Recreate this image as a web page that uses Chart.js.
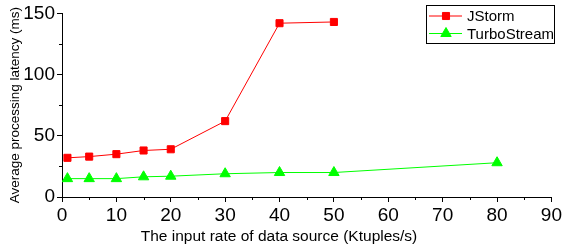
<!DOCTYPE html>
<html>
<head>
<meta charset="utf-8">
<script src="https://cdn.jsdelivr.net/npm/chart.js@4.4.0/dist/chart.umd.min.js"></script>
<style>
  html, body { margin: 0; padding: 0; background: #fff; }
  #wrap { width: 564px; height: 248px; }
</style>
</head>
<body>
<div id="wrap"><canvas id="chart"></canvas></div>
<script>
// data
var jstormRates = [1, 5, 10, 15, 20, 30, 40, 50];
var jstormLatency = [32, 33, 35, 38, 39, 62, 142, 143];
var turboRates = [1, 5, 10, 15, 20, 30, 40, 50, 80];
var turboLatency = [15, 15, 15, 16.5, 17, 19, 20, 20, 28];
var xTicks = [0, 10, 20, 30, 40, 50, 60, 70, 80, 90];
var yTicks = [0, 50, 100, 150];
var xTitle = 'The input rate of data source (Ktuples/s)';

var FONT = '"Liberation Sans", Arial, sans-serif';

function toPoints(xs, ys) {
    return xs.map(function (x, i) { return { x: x, y: ys[i] }; });
}

// minor ticks half way between the major ones
var minorTicks = {
    id: 'minorTicks',
    afterDraw: function (chart) {
        var ctx = chart.ctx, xs = chart.scales.x, ys = chart.scales.y;
        ctx.save();
        ctx.strokeStyle = '#000';
        ctx.lineWidth = 1;
        ctx.beginPath();
        for (var i = 0; i < xTicks.length - 1; i++) {
            var px = Math.round(xs.getPixelForValue((xTicks[i] + xTicks[i + 1]) / 2)) + 0.5;
            ctx.moveTo(px, ys.bottom);
            ctx.lineTo(px, ys.bottom + 3);
        }
        for (var j = 0; j < yTicks.length - 1; j++) {
            var py = Math.round(ys.getPixelForValue((yTicks[j] + yTicks[j + 1]) / 2)) + 0.5;
            ctx.moveTo(xs.left, py);
            ctx.lineTo(xs.left - 3, py);
        }
        ctx.stroke();
        // x axis title sits a bit left of the axis centre in the original
        ctx.fillStyle = '#000';
        ctx.font = '15.5px ' + FONT;
        ctx.textAlign = 'center';
        ctx.textBaseline = 'middle';
        ctx.fillText(xTitle, 279, 237);
        ctx.restore();
    }
};

// boxed legend in the top right corner, like the original plot
var boxLegend = {
    id: 'boxLegend',
    afterDraw: function (chart) {
        var ctx = chart.ctx;
        var left = 426, top = 5, w = 128, h = 38;
        ctx.save();
        ctx.fillStyle = '#fff';
        ctx.fillRect(left, top, w, h);
        ctx.strokeStyle = '#000';
        ctx.lineWidth = 1;
        ctx.strokeRect(left + 0.5, top + 0.5, w, h);
        ctx.font = '15px ' + FONT;
        ctx.textBaseline = 'middle';
        chart.data.datasets.forEach(function (ds, i) {
            var y = 16 + i * 17.5;
            ctx.strokeStyle = ds.borderColor;
            ctx.beginPath();
            ctx.moveTo(429, y);
            ctx.lineTo(462, y);
            ctx.stroke();
            ctx.fillStyle = ds.pointBackgroundColor;
            ctx.strokeStyle = ds.pointBackgroundColor;
            Chart.helpers.drawPoint(ctx, {
                pointStyle: ds.pointStyle, radius: ds.pointRadius, borderWidth: 1, rotation: 0
            }, 446, y);
            ctx.fillStyle = '#000';
            ctx.fillText(ds.label, 467, y + 1);
        });
        ctx.restore();
    }
};

var chrt = document.getElementById('chart').getContext('2d');
var chartId = new Chart(chrt, {
    type: 'line',
    data: {
        datasets: [{
            label: 'JStorm',
            data: toPoints(jstormRates, jstormLatency),
            borderColor: '#ff0000',
            backgroundColor: '#ff0000',
            pointBackgroundColor: '#ff0000',
            pointBorderColor: '#ff0000',
            pointStyle: 'rect',
            pointRadius: 5,
            borderWidth: 1,
            tension: 0
        }, {
            label: 'TurboStream',
            data: toPoints(turboRates, turboLatency),
            borderColor: '#00ff00',
            backgroundColor: '#00ff00',
            pointBackgroundColor: '#00ff00',
            pointBorderColor: '#00ff00',
            pointStyle: 'triangle',
            pointRadius: 6,
            borderWidth: 1,
            tension: 0
        }]
    },
    options: {
        responsive: true,
        maintainAspectRatio: false,
        animation: false,
        layout: { padding: { top: 11, right: 10, left: 0, bottom: 0 } },
        plugins: {
            legend: { display: false },
            tooltip: { enabled: false }
        },
        scales: {
            x: {
                type: 'linear',
                min: 0,
                max: 90,
                afterBuildTicks: function (scale) {
                    scale.ticks = xTicks.map(function (v) { return { value: v }; });
                },
                afterFit: function (scale) { scale.height = 51; },
                grid: { drawOnChartArea: false, tickLength: 5, tickColor: '#000' },
                border: { color: '#000', width: 1 },
                ticks: {
                    color: '#000',
                    padding: 2,
                    maxRotation: 0,
                    font: { family: FONT, size: 19 }
                },
                title: { display: false }
            },
            y: {
                min: 0,
                max: 150,
                afterBuildTicks: function (scale) {
                    scale.ticks = yTicks.map(function (v) { return { value: v }; });
                },
                afterFit: function (scale) { scale.width = 62; },
                grid: { drawOnChartArea: false, tickLength: 5, tickColor: '#000' },
                border: { color: '#000', width: 1 },
                ticks: {
                    color: '#000',
                    padding: 2,
                    font: { family: FONT, size: 19 }
                },
                title: {
                    display: true,
                    text: 'Average processing latency (ms)',
                    color: '#000',
                    padding: { top: 7, bottom: 0 },
                    font: { family: FONT, size: 13.5 }
                }
            }
        }
    },
    plugins: [minorTicks, boxLegend]
});
</script>
</body>
</html>
